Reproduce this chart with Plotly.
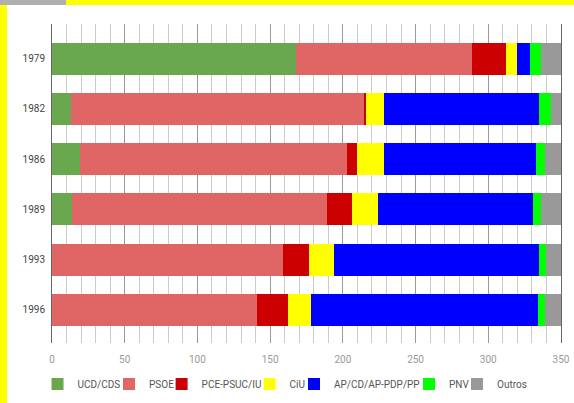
import plotly.graph_objects as go

years = ["1979", "1982", "1986", "1989", "1993", "1996"]
parties = ["UCD/CDS", "PSOE", "PCE-PSUC/IU", "CiU", "AP/CD/AP-PDP/PP", "PNV", "Outros"]
ucd_cds = [168, 13, 19, 14, 0, 0]
psoe = [121, 202, 184, 175, 159, 141]
pce_iu = [23, 1, 7, 17, 18, 21]
ciu = [8, 12, 18, 18, 17, 16]
ap_pp = [9, 107, 105, 107, 141, 156]
pnv = [7, 8, 6, 5, 5, 5]
outros = [14, 7, 11, 14, 10, 11]
series = [ucd_cds, psoe, pce_iu, ciu, ap_pp, pnv, outros]
colors = ["#6aa84f", "#e06666", "#cc0000", "#ffff00", "#0000ff", "#00ff00", "#999999"]
x_ticks = [0, 50, 100, 150, 200, 250, 300, 350]

W, H = 574, 403
L, R, T, B = 52, 13, 24, 60
pw, ph = W - L - R, H - T - B

# legend text start positions (px)
legend_text_x = [75.5, 147, 199.6, 287.6, 332, 447, 495]


def px(xp):
    return (xp - L) / pw


def py(yp):
    return (H - B - yp) / ph


fig = go.Figure()
legend_layouts = {}
for i, (name, vals, col) in enumerate(zip(parties, series, colors)):
    key = "legend" if i == 0 else f"legend{i + 1}"
    fig.add_trace(go.Bar(
        y=years, x=vals, name=name, orientation="h",
        marker=dict(color=col, line=dict(width=0)),
        width=0.64, legend=key,
    ))
    legend_layouts[key] = dict(
        x=px(legend_text_x[i] - 38), xanchor="left",
        y=py(384), yanchor="middle",
        orientation="h", bgcolor="rgba(0,0,0,0)", borderwidth=0,
        font=dict(size=10, color="#555"), itemwidth=30,
    )

shapes = [
    dict(type="rect", xref="paper", yref="paper", x0=px(0), x1=px(W), y0=py(5), y1=py(0),
         fillcolor="#ffff00", line=dict(width=0), layer="above"),
    dict(type="rect", xref="paper", yref="paper", x0=px(0), x1=px(7), y0=py(H), y1=py(0),
         fillcolor="#ffff00", line=dict(width=0), layer="above"),
    dict(type="rect", xref="paper", yref="paper", x0=px(0), x1=px(66), y0=py(5), y1=py(0),
         fillcolor="#b0b0b0", line=dict(width=0), layer="above"),
]

fig.update_layout(
    width=W, height=H,
    margin=dict(l=L, r=R, t=T, b=B, pad=0, autoexpand=False),
    barmode="stack",
    bargap=0.36,
    paper_bgcolor="white", plot_bgcolor="white",
    font=dict(family="Roboto, Arial, sans-serif", size=10, color="#444"),
    showlegend=True,
    xaxis=dict(range=[0, 350], tickvals=x_ticks, ticktext=[str(v) for v in x_ticks],
               showgrid=True, gridcolor="#999999", gridwidth=1,
               minor=dict(dtick=10, showgrid=True, gridcolor="#cccccc", gridwidth=1),
               zeroline=False, showline=False,
               ticks="outside", ticklen=7, tickcolor="rgba(0,0,0,0)",
               tickfont=dict(size=10, color="#999")),
    yaxis=dict(type="category", range=[5.66, -0.69], showgrid=False, zeroline=False,
               showline=True, linecolor="#666", linewidth=1, mirror=True,
               ticks="", ticklabelstandoff=4,
               tickfont=dict(size=10, color="#444")),
    shapes=shapes,
    **legend_layouts,
)

fig.write_html("out.html", config={"displayModeBar": False},
               post_script="document.body.style.margin='0';document.body.style.padding='0';")
